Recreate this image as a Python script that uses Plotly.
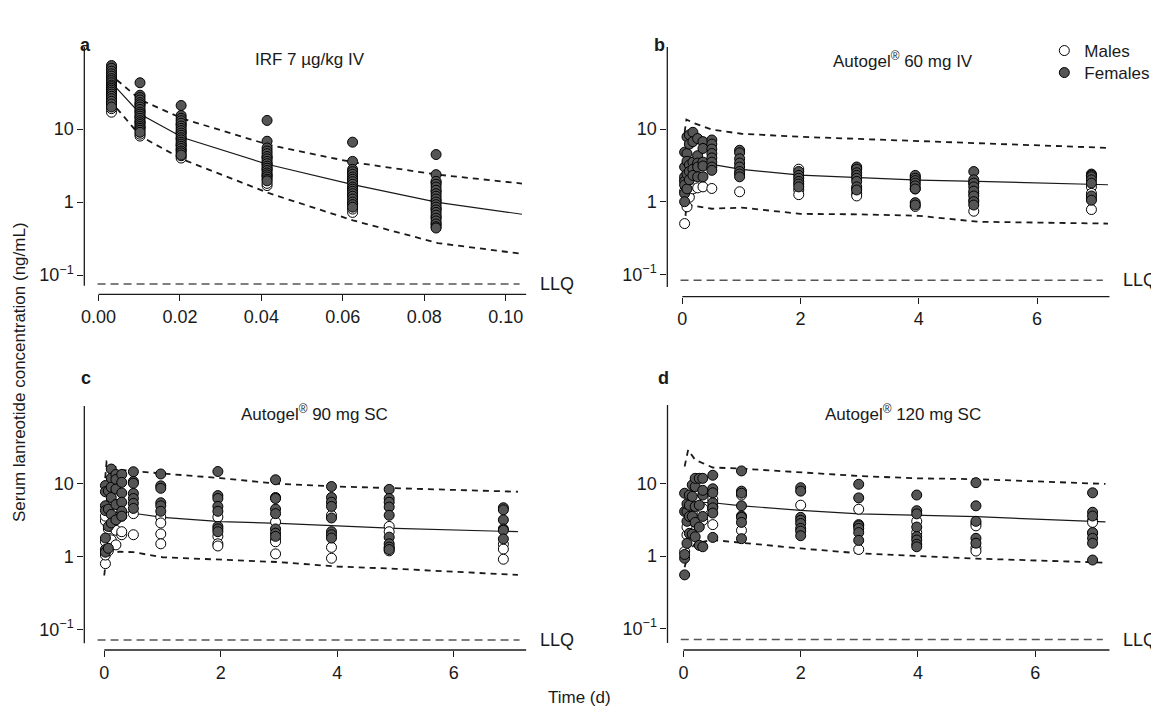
import math
import plotly.graph_objects as go

W, H = 1159, 708
OFF = 8  # default page margin around the plot div
FONT = "Liberation Sans, Arial, Helvetica, sans-serif"

# ------------------------------------------------------------------ data
# Panel a : IRF 7 ug/kg IV  (time in days)
A_TIMES = [0.0032, 0.0102, 0.0203, 0.0414, 0.0624, 0.0829]
A_FEMALES = [
    [74, 68, 62, 57, 53, 49, 46, 43, 40, 38, 36, 34, 32, 30, 28, 26, 24, 22, 20],
    [43, 29, 27, 25, 23, 21.5, 20, 18.5, 17, 16, 15, 14, 13, 12.2, 11.5, 10.8, 10.2, 9.6, 9.0],
    [21, 15.3, 14, 13, 12, 11, 10.2, 9.5, 8.8, 8.2, 7.6, 7.1, 6.6, 6.2, 5.8, 5.4, 5.0, 4.7, 4.4],
    [13.1, 6.8, 5.5, 5.0, 4.6, 4.2, 3.9, 3.6, 3.35, 3.1, 2.9, 2.7, 2.5, 2.35, 2.2, 2.05, 1.95],
    [6.6, 3.6, 2.8, 2.6, 2.4, 2.2, 2.05, 1.9, 1.75, 1.6, 1.5, 1.4, 1.3, 1.2, 1.1, 1.0, 0.92, 0.85],
    [4.47, 2.37, 1.92, 1.75, 1.6, 1.45, 1.3, 1.2, 1.1, 1.0, 0.92, 0.85, 0.78, 0.72, 0.66, 0.6, 0.55, 0.5, 0.46, 0.44],
]
A_MALES = [
    [17, 19, 23, 27, 31, 35, 41, 48],
    [8.0, 8.5, 10.5, 12.5, 14.5, 17.5, 22],
    [4.0, 4.3, 5.2, 6.0, 7.4, 9.0, 11.5],
    [1.68, 1.8, 2.3, 2.8, 3.3, 4.1],
    [0.72, 0.8, 0.95, 1.25, 1.55, 2.0, 2.5],
    [0.5, 0.62, 0.8, 1.05, 1.4, 1.85],
]
A_LINE_T = [0.0045, 0.0104, 0.0208, 0.0417, 0.0625, 0.0833, 0.104]
A_MEDIAN = [36.0, 15.8, 7.6, 3.26, 1.73, 0.99, 0.68]
A_UPPER = [47.0, 24.9, 13.8, 6.1, 3.5, 2.37, 1.79]
A_LOWER = [19.2, 7.9, 3.81, 1.33, 0.56, 0.274, 0.195]
A_LLQ = 0.075

# Panel b : Autogel 60 mg IV
B_TIMES = [0.04, 0.08, 0.12, 0.18, 0.26, 0.35, 0.5, 0.97, 1.97, 2.95, 3.94, 4.93, 6.92]
B_FEMALES = [
    [4.8, 3.0, 2.2, 1.9, 1.7, 1.3, 1.0],
    [7.8, 4.6, 3.6, 2.4, 1.5],
    [8.3, 6.2, 3.2, 2.6, 2.0],
    [9.0, 6.7, 3.5, 2.8, 2.3],
    [7.4, 4.3, 3.4, 3.0, 2.2],
    [6.7, 5.4, 3.5, 3.1, 2.2],
    [7.06, 6.2, 5.3, 4.6, 4.0, 3.5, 3.0, 2.7],
    [5.1, 4.7, 3.9, 3.4, 3.0, 2.6, 2.4, 2.2],
    [2.6, 2.3, 2.1, 1.9, 1.75, 1.6],
    [3.0, 2.8, 2.5, 2.3, 2.1, 1.9, 1.6, 1.45],
    [2.3, 2.1, 1.95, 1.8, 1.65, 1.5, 0.97, 0.9],
    [2.6, 2.0, 1.8, 1.6, 1.4, 1.2, 1.0, 0.9],
    [2.4, 2.3, 2.2, 2.0, 1.8, 1.2, 1.05],
]
B_MALES = [
    [0.5, 1.4, 2.0],
    [0.85, 1.6],
    [1.15, 2.5],
    [1.5, 3.4],
    [1.55, 3.6],
    [1.6, 3.3],
    [1.52],
    [1.37],
    [2.8, 1.45, 1.25],
    [2.9, 1.5, 1.3, 1.2],
    [2.2, 1.5, 0.86],
    [1.8, 1.3, 1.05, 0.74],
    [2.3, 1.6, 1.3, 1.1, 0.78],
]
B_LINE_T = [0.04, 0.07, 0.2, 0.5, 1, 2, 3, 4, 5, 7.2]
B_MEDIAN = [1.8, 2.6, 3.4, 3.26, 2.78, 2.32, 2.14, 1.98, 1.9, 1.71]
B_UPPER = [9.0, 13.5, 12.0, 9.8, 8.6, 7.8, 7.3, 6.8, 6.45, 5.5]
B_LOWER = [0.45, 0.9, 0.88, 0.8, 0.83, 0.68, 0.67, 0.64, 0.53, 0.5]
B_LLQ = 0.083

# Panel c : Autogel 90 mg SC
C_TIMES = [0.02, 0.07, 0.12, 0.2, 0.3, 0.5, 0.97, 1.95, 2.94, 3.9, 4.89, 6.85]
C_FEMALES = [
    [9.5, 7.8, 5.0, 4.3, 1.8, 1.25, 1.15],
    [8.0, 4.5, 2.6, 1.3],
    [16.0, 12.0, 9.0, 6.5, 3.8, 2.9],
    [13.5, 11.5, 8.5, 5.2, 3.2],
    [13.5, 10.5, 7.5, 5.6, 4.2, 3.6],
    [14.7, 10.8, 10.2, 7.4, 6.3, 5.4, 4.6],
    [13.7, 9.4, 8.7, 5.5, 5.0, 4.2],
    [14.8, 6.9, 6.3, 4.9, 4.2, 2.6, 2.4, 2.2],
    [11.4, 6.5, 6.3, 4.5, 3.9, 2.4, 2.1, 1.9],
    [9.2, 6.5, 5.6, 4.9, 3.4, 2.2, 2.0, 1.8],
    [8.4, 6.3, 5.6, 4.8, 3.7, 1.85, 1.5, 1.35, 1.25],
    [4.7, 4.4, 3.2, 2.4, 2.3, 1.75],
]
C_MALES = [
    [0.8, 1.05, 1.6, 3.1, 3.6],
    [1.2, 2.4, 4.9],
    [1.7, 2.6, 5.8],
    [1.45, 2.3, 6.8],
    [2.0, 2.2, 3.6],
    [3.9, 2.0],
    [3.5, 2.9, 2.05, 1.5],
    [3.5, 1.9, 1.5, 1.4],
    [3.0, 1.7, 1.6, 1.09],
    [3.7, 1.34, 0.95],
    [2.6, 2.2, 1.3, 1.2],
    [1.48, 1.27, 0.92],
]
C_LINE_T = [0.0, 0.04, 0.27, 0.5, 1, 2, 3, 4, 5, 7.1]
C_MEDIAN = [2.5, 3.4, 4.3, 3.95, 3.47, 3.03, 2.87, 2.67, 2.45, 2.2]
C_UPPER = [8.5, 20.3, 15.6, 15.0, 13.9, 12.0, 10.0, 9.2, 8.7, 7.8]
C_LOWER = [0.55, 1.1, 1.17, 1.15, 0.98, 0.9, 0.84, 0.73, 0.68, 0.56]
C_LLQ = 0.071

# Panel d : Autogel 120 mg SC
D_TIMES = [0.02, 0.06, 0.1, 0.15, 0.2, 0.27, 0.33, 0.5, 0.99, 2.0, 2.99, 3.98, 4.99, 6.98]
D_FEMALES = [
    [0.55, 0.93, 1.05, 7.3, 4.1],
    [1.49, 3.0, 4.1, 5.2],
    [2.05, 5.0, 6.9, 3.5],
    [9.5, 6.6, 3.5, 2.0],
    [9.0, 11.7, 1.84, 4.8, 2.9],
    [11.7, 5.0, 2.5, 1.4],
    [11.7, 6.9, 3.5, 1.34, 8.0],
    [12.9, 8.4, 7.4, 5.4, 4.6, 3.9, 1.8],
    [14.8, 7.8, 7.3, 4.9, 3.55, 3.4, 2.9, 1.73],
    [8.7, 7.8, 3.4, 3.1, 2.8, 2.4, 2.2, 1.9],
    [9.7, 6.3, 2.7, 2.6, 2.4, 2.1, 1.64],
    [6.9, 4.2, 3.8, 2.5, 1.85, 1.66, 1.45, 1.34],
    [10.2, 4.9, 3.0, 1.75, 1.5],
    [7.4, 4.0, 3.55, 2.1, 1.75, 1.5, 0.88],
]
D_MALES = [
    [1.15],
    [1.95, 2.5],
    [3.1],
    [3.9],
    [5.9],
    [3.1],
    [4.5, 3.1],
    [6.0, 4.8, 2.7],
    [6.9, 2.25],
    [5.0],
    [4.4, 1.23],
    [3.0, 2.1],
    [2.8, 2.6, 1.3, 1.17],
    [3.1, 2.9, 2.05],
]
D_LINE_T = [0.02, 0.08, 0.2, 0.5, 1, 2, 3, 4, 5, 7.2]
D_MEDIAN = [1.5, 3.5, 5.5, 5.4, 4.9, 4.25, 3.8, 3.6, 3.47, 2.95]
D_UPPER = [17.0, 28.8, 21.0, 16.5, 15.9, 14.0, 12.6, 11.7, 11.4, 9.8]
D_LOWER = [0.7, 1.1, 1.5, 1.66, 1.52, 1.27, 1.09, 1.0, 0.92, 0.81]
D_LLQ = 0.071

TITLES = ["IRF 7 \u00b5g/kg IV", "Autogel<sup>\u00ae</sup> 60 mg IV",
          "Autogel<sup>\u00ae</sup> 90 mg SC", "Autogel<sup>\u00ae</sup> 120 mg SC"]
LETTERS = ["a", "b", "c", "d"]
A_XTICKS = [0.0, 0.02, 0.04, 0.06, 0.08, 0.10]
A_XTICKTEXT = ["0.00", "0.02", "0.04", "0.06", "0.08", "0.10"]
D_XTICKS = [0, 2, 4, 6]
D_XTICKTEXT = ["0", "2", "4", "6"]
Y_TICKS = [0.1, 1, 10]
Y_TICKTEXT = ["10<sup>\u22121</sup>", "1", "10"]

# ------------------------------------------------------------------ layout geometry (page pixels)
GEOM = [
    dict(left=81.5, right=524.5, top=47, bottom=294.3, xp0=95.7, xp1=504, xv1=0.10,
         y01=275, dec=73.0, ylb=285.7, title=(308, 60), letter=(83, 45)),
    dict(left=666, right=1109.3, top=47, bottom=296.7, xp0=681, xp1=1036.7, xv1=6,
         y01=274.4, dec=72.7, ylb=287, title=(902, 60), letter=(658, 45)),
    dict(left=81.5, right=524.5, top=406, bottom=650, xp0=101.5, xp1=452, xv1=6,
         y01=629.3, dec=72.7, ylb=643.3, title=(312, 413), letter=(83, 378)),
    dict(left=666.2, right=1109.3, top=405, bottom=650, xp0=682.2, xp1=1034.8, xv1=6,
         y01=628.7, dec=72.7, ylb=643, title=(902, 413), letter=(662, 378)),
]

PANELS = [
    (A_TIMES, A_FEMALES, A_MALES, A_LINE_T, A_MEDIAN, A_UPPER, A_LOWER, A_LLQ, A_XTICKS, A_XTICKTEXT),
    (B_TIMES, B_FEMALES, B_MALES, B_LINE_T, B_MEDIAN, B_UPPER, B_LOWER, B_LLQ, D_XTICKS, D_XTICKTEXT),
    (C_TIMES, C_FEMALES, C_MALES, C_LINE_T, C_MEDIAN, C_UPPER, C_LOWER, C_LLQ, D_XTICKS, D_XTICKTEXT),
    (D_TIMES, D_FEMALES, D_MALES, D_LINE_T, D_MEDIAN, D_UPPER, D_LOWER, D_LLQ, D_XTICKS, D_XTICKTEXT),
]


def px(x):
    return (x - OFF) / W


def py(y):
    return 1 - (y - OFF) / H


def flatten(times, groups):
    xs, ys = [], []
    for t, vals in zip(times, groups):
        xs += [t] * len(vals)
        ys += list(vals)
    return xs, ys


FILL = "#555555"
INK = "#1a1a1a"
MSIZE = 10

fig = go.Figure()
legend_common = dict(xanchor="left", yanchor="top", bgcolor="rgba(0,0,0,0)",
                     font=dict(size=17, family=FONT, color=INK),
                     itemsizing="trace", itemwidth=30)
layout = dict(
    width=W, height=H, margin=dict(l=0, r=0, t=0, b=0),
    paper_bgcolor="white", plot_bgcolor="white",
    font=dict(family=FONT, size=18, color=INK),
    showlegend=True,
    legend=dict(x=px(1044), y=py(33), **legend_common),
    legend2=dict(x=px(1044), y=py(55), **legend_common),
)
shapes, annotations = [], []

for i, (panel, g) in enumerate(zip(PANELS, GEOM)):
    times, fem, mal, lt, med, up, lo, llq, xt, xtt = panel
    sfx = "" if i == 0 else str(i + 1)
    xa, ya = "x" + sfx, "y" + sfx
    kx = g["xv1"] / (g["xp1"] - g["xp0"])
    xr = [(g["left"] - g["xp0"]) * kx, (g["right"] - g["xp0"]) * kx]
    yr = [-1 - (g["bottom"] - g["y01"]) / g["dec"], -1 + (g["y01"] - g["top"]) / g["dec"]]

    layout["xaxis" + sfx] = dict(
        domain=[px(g["left"]), px(g["right"])], range=xr, anchor=ya,
        showline=False, showgrid=False, zeroline=False,
        ticks="outside", ticklen=6, tickwidth=1.2, tickcolor=INK,
        tickvals=xt, ticktext=xtt, tickfont=dict(size=18, family=FONT, color=INK),
        fixedrange=True)
    layout["yaxis" + sfx] = dict(
        type="log", domain=[py(g["bottom"]), py(g["top"])], range=yr, anchor=xa,
        showline=False, showgrid=False, zeroline=False,
        ticks="outside", ticklen=6, tickwidth=1.2, tickcolor=INK,
        tickvals=Y_TICKS, ticktext=Y_TICKTEXT,
        tickfont=dict(size=18, family=FONT, color=INK), fixedrange=True)

    # detached axis lines
    shapes.append(dict(type="line", xref="paper", yref="paper",
                       x0=px(g["left"]), x1=px(g["left"]), y0=py(g["ylb"]), y1=py(g["top"]),
                       line=dict(color=INK, width=1.3)))
    shapes.append(dict(type="line", xref="paper", yref="paper",
                       x0=px(g["xp0"]), x1=px(g["right"]), y0=py(g["bottom"]), y1=py(g["bottom"]),
                       line=dict(color=INK, width=1.3)))

    # LLQ line
    span = xr[1] - xr[0]
    fig.add_trace(go.Scatter(
        x=[xr[0] + 0.03 * span, xr[1] - 0.015 * span], y=[llq, llq], mode="lines",
        line=dict(color="#555555", width=1.5, dash="8px,5px"),
        xaxis=xa, yaxis=ya, showlegend=False, hoverinfo="skip"))
    annotations.append(dict(text="LLQ", xref="paper", yref=ya, x=px(g["right"] + 12),
                            y=math.log10(llq), xanchor="left", yanchor="middle",
                            showarrow=False, font=dict(size=18, family=FONT, color=INK)))

    # prediction lines
    fig.add_trace(go.Scatter(x=lt, y=up, mode="lines", line=dict(color=INK, width=1.8, dash="6px,5px"),
                             xaxis=xa, yaxis=ya, showlegend=False, hoverinfo="skip"))
    fig.add_trace(go.Scatter(x=lt, y=lo, mode="lines", line=dict(color=INK, width=1.8, dash="6px,5px"),
                             xaxis=xa, yaxis=ya, showlegend=False, hoverinfo="skip"))
    fig.add_trace(go.Scatter(x=lt, y=med, mode="lines", line=dict(color=INK, width=1.2),
                             xaxis=xa, yaxis=ya, showlegend=False, hoverinfo="skip"))

    # observations
    mx, my = flatten(times, mal)
    fx, fy = flatten(times, fem)
    fig.add_trace(go.Scatter(x=mx, y=my, mode="markers", name="Males", legend="legend",
                             marker=dict(size=MSIZE, color="white", line=dict(color="black", width=1)),
                             xaxis=xa, yaxis=ya, showlegend=(i == 0), legendgroup="m"))
    fig.add_trace(go.Scatter(x=fx, y=fy, mode="markers", name="Females", legend="legend2",
                             marker=dict(size=MSIZE, color=FILL, line=dict(color="black", width=1)),
                             xaxis=xa, yaxis=ya, showlegend=(i == 0), legendgroup="f"))

    # titles and letters
    annotations.append(dict(text=TITLES[i], xref="paper", yref="paper",
                            x=px(g["title"][0]), y=py(g["title"][1]),
                            xanchor="center", yanchor="middle", showarrow=False,
                            font=dict(size=17, family=FONT, color=INK)))
    annotations.append(dict(text="<b>%s</b>" % LETTERS[i], xref="paper", yref="paper",
                            x=px(g["letter"][0]), y=py(g["letter"][1]),
                            xanchor="center", yanchor="middle", showarrow=False,
                            font=dict(size=18, family=FONT, color=INK)))

annotations.append(dict(text="Serum lanreotide concentration (ng/mL)", xref="paper", yref="paper",
                        x=px(16), y=py(372), textangle=-90, xanchor="center", yanchor="middle",
                        showarrow=False, font=dict(size=17, family=FONT, color=INK)))
annotations.append(dict(text="Time (d)", xref="paper", yref="paper",
                        x=px(578), y=py(697), xanchor="center", yanchor="middle",
                        showarrow=False, font=dict(size=17, family=FONT, color=INK)))

layout["shapes"] = shapes
layout["annotations"] = annotations
fig.update_layout(**layout)
fig.write_html("out.html")
